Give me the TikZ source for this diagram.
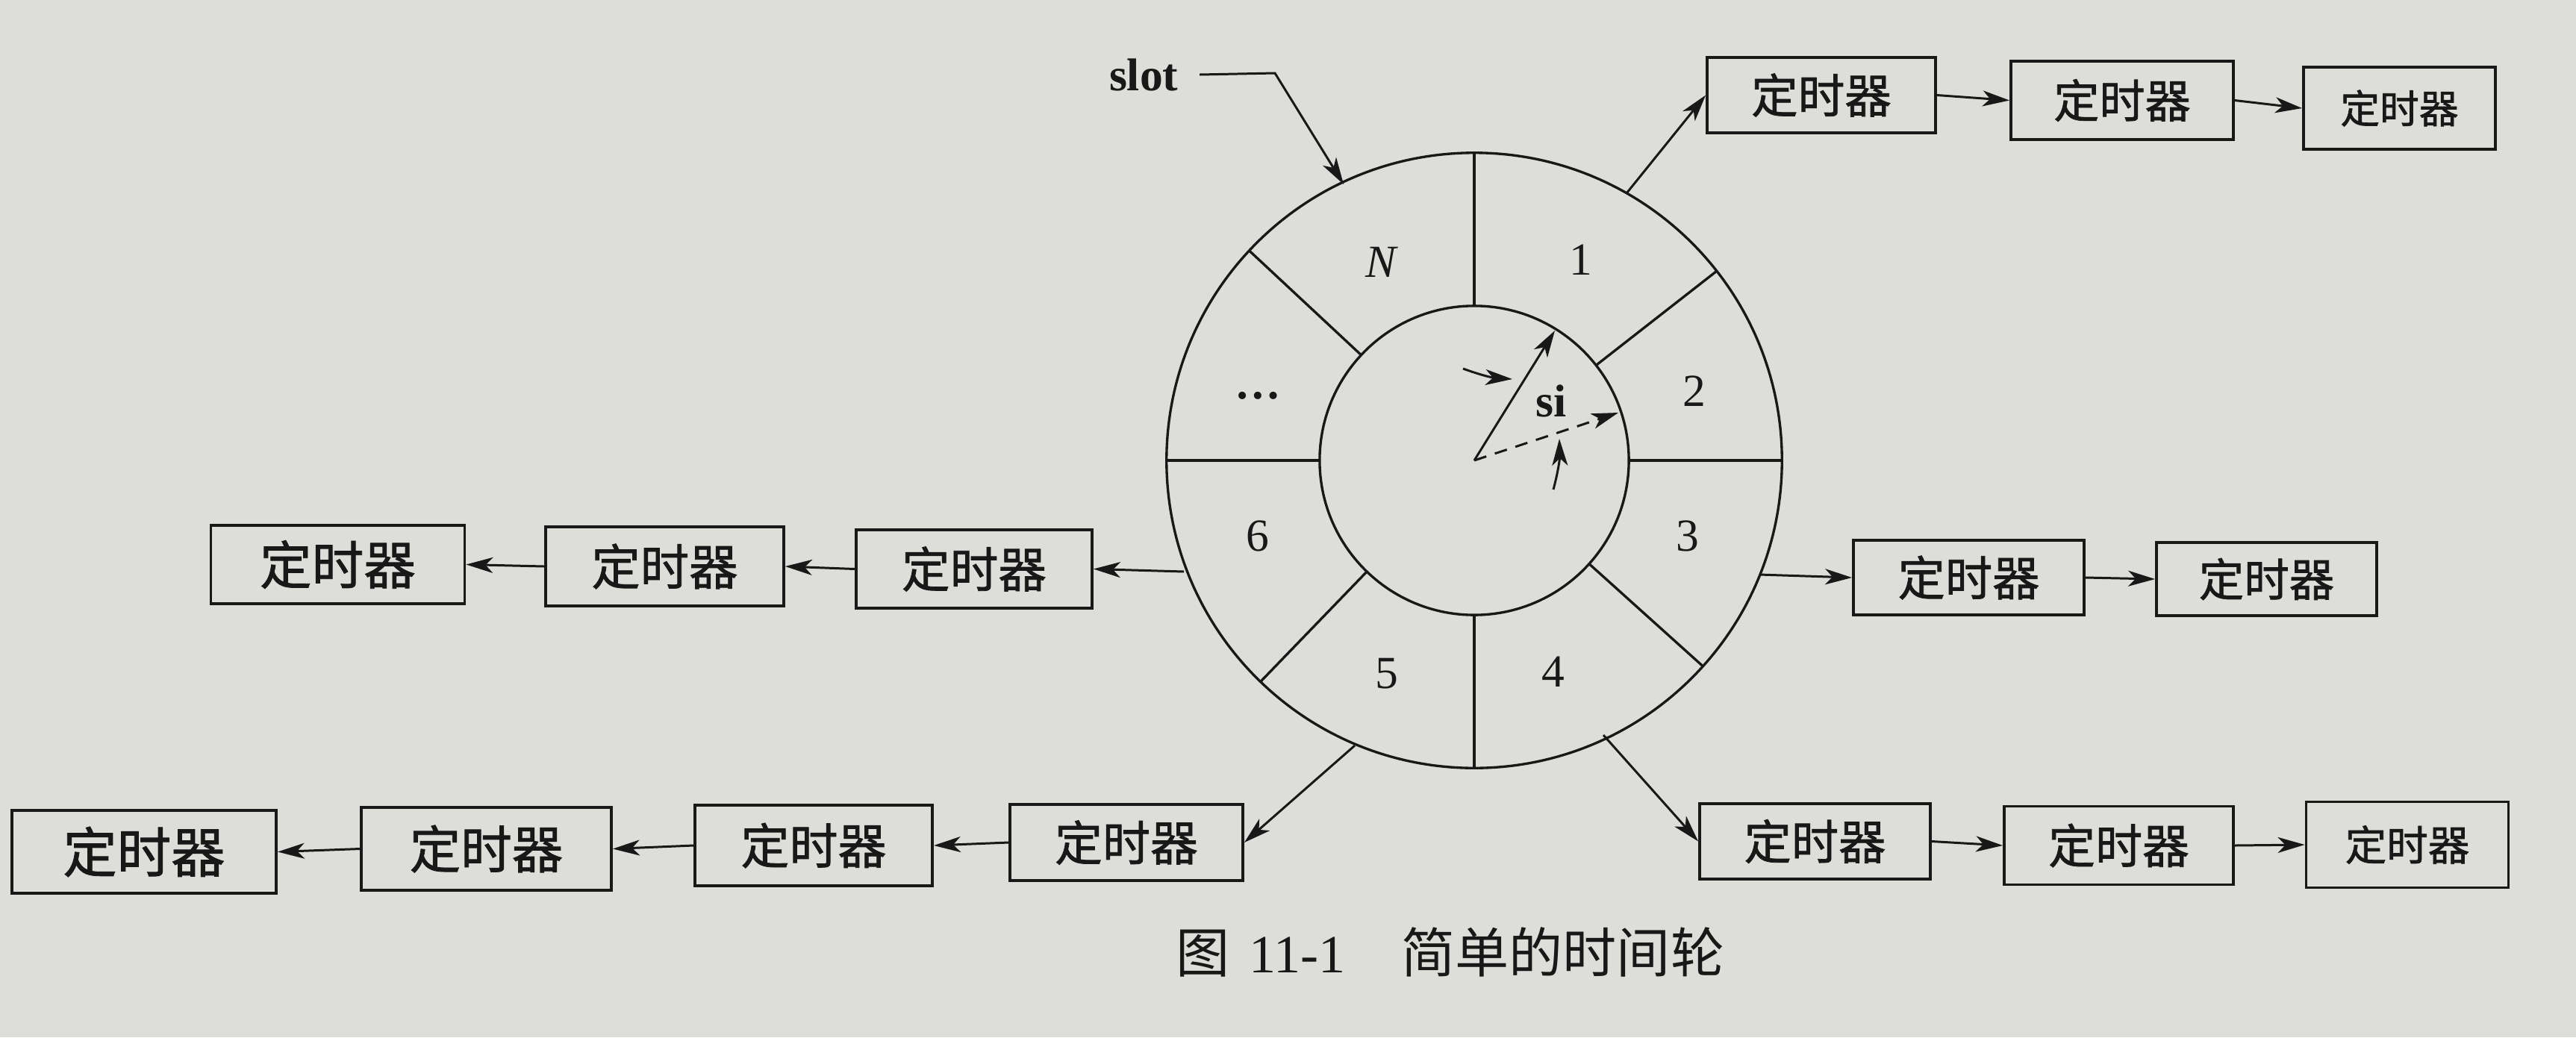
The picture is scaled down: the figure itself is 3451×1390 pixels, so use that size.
\documentclass[tikz,border=0pt]{standalone}
\usepackage{fontspec}
\setmainfont{Liberation Serif}
\newfontfamily\cjk{Noto Sans CJK SC}
\newfontfamily\cjkb{Noto Sans CJK SC}[FakeBold=1.2]
\usetikzlibrary{arrows.meta,calc}
\definecolor{paper}{RGB}{221,221,218}
\definecolor{ink}{RGB}{24,24,24}
\begin{document}
\begin{tikzpicture}[x=0.01cm,y=-0.01cm,
  tbox/.style n args={3}{draw=ink, line width=1.05pt, inner sep=0pt,
    minimum width=#1cm, minimum height=#2cm, text=ink,
    font=\cjkb\fontsize{#3pt}{#3pt}\selectfont},
  wl/.style={draw=ink, line width=0.95pt},
  arr/.style={draw=ink, line width=0.85pt,
    -{Stealth[length=0.36cm,width=0.21cm,inset=0.1cm]}},
  lbl/.style={text=ink, font=\fontsize{17.5pt}{17.5pt}\selectfont, inner sep=0pt}]
\useasboundingbox (0,0) rectangle (3451,1390);
\fill[paper] (0,0) rectangle (3451,1390);

% wheel
\coordinate (W) at (1975,617);
\draw[wl] (W) circle[radius=4.12cm];
\draw[wl] (W) circle[radius=2.07cm];
\foreach \a in {0,38,90,137,180,226,270,318}
  \draw[wl] ([shift={(-\a:207)}]W) -- ([shift={(-\a:412)}]W);

% slot labels
\node[lbl] (lN) at (1851,351) {\textit{N}};
\node[lbl] (l1) at (2118,348) {1};
\node[lbl] (l2) at (2270,524) {2};
\node[lbl] (l3) at (2261,718) {3};
\node[lbl] (l4) at (2081,900) {4};
\node[lbl] (l5) at (1858,903) {5};
\node[lbl] (l6) at (1685,718) {6};
\node[lbl, font=\bfseries\fontsize{17.5pt}{17.5pt}\selectfont] (ldots) at (1685,530) {\ldots};

% pointer
\coordinate (pA) at (2083,443);
\coordinate (pB) at (2168,553);
\draw[arr] (W) -- (pA);
\draw[arr, dash pattern=on 0.17cm off 0.12cm] (W) -- (pB);
\coordinate (q1s) at (1960,494);
\coordinate (q1e) at (2026,508);
\draw[arr] (q1s) to[bend right=8] (q1e);
\coordinate (q2s) at (2081,656);
\coordinate (q2e) at (2089,588);
\draw[arr] (q2s) to[bend right=8] (q2e);
\node[lbl, font=\bfseries\fontsize{17.5pt}{17.5pt}\selectfont] (si) at (2078,537) {si};

% slot pointer
\node[lbl, font=\bfseries\fontsize{17.5pt}{17.5pt}\selectfont, anchor=east] (slot) at (1579,100) {slot};
\coordinate (slotbend) at (1708,98);
\coordinate (slottip) at (1800,247);
\draw[arr] ([xshift=0.28cm]slot.east) -- (slotbend) -- (slottip);

% start points on the wheel
\coordinate (sTR) at (2179,259);
\coordinate (sMR) at (2357,770);
\coordinate (sML) at (1586,766);
\coordinate (sBL) at (1815,999);
\coordinate (sBR) at (2148,985);

% top-right chain
\node[tbox={3.06}{1.01}{17.8}] (TR1) at (2440,127.5) {定时器};
\node[tbox={2.98}{1.05}{17.4}] (TR2) at (2843,134.5) {定时器};
\node[tbox={2.57}{1.10}{15.0}] (TR3) at (3214.5,145) {定时器};
\draw[arr] (sTR) -- (TR1.west);
\draw[arr] (TR1.east) -- (TR2.west);
\draw[arr] (TR2.east) -- (TR3.west);

% middle-right chain
\node[tbox={3.09}{1.00}{18.0}] (MR1) at (2637.5,774) {定时器};
\node[tbox={2.95}{0.98}{17.2}] (MR2) at (3036.5,776) {定时器};
\draw[arr] (sMR) -- (MR1.west);
\draw[arr] (MR1.east) -- (MR2.west);

% middle-left chain
\node[tbox={3.16}{1.05}{18.4}] (ML1) at (1305,762.5) {定时器};
\node[tbox={3.19}{1.06}{18.6}] (ML2) at (890.5,759) {定时器};
\node[tbox={3.40}{1.05}{19.8}] (ML3) at (452.5,756.5) {定时器};
\draw[arr] (sML) -- (ML1.east);
\draw[arr] (ML1.west) -- (ML2.east);
\draw[arr] (ML2.west) -- (ML3.east);

% bottom-left chain
\node[tbox={3.12}{1.02}{18.2}] (BL1) at (1509,1129) {定时器};
\node[tbox={3.18}{1.08}{18.5}] (BL2) at (1090,1133) {定时器};
\node[tbox={3.35}{1.11}{19.5}] (BL3) at (651.5,1137.5) {定时器};
\node[tbox={3.54}{1.11}{20.6}] (BL4) at (193,1141.5) {定时器};
\draw[arr] (sBL) -- (BL1.east);
\draw[arr] (BL1.west) -- (BL2.east);
\draw[arr] (BL2.west) -- (BL3.east);
\draw[arr] (BL3.west) -- (BL4.east);

% bottom-right chain
\node[tbox={3.09}{1.01}{18.0}] (BR1) at (2431.5,1127.5) {定时器};
\node[tbox={3.07}{1.05}{17.9}] (BR2) at (2838.5,1133) {定时器};
\node[tbox={2.71}{1.15}{15.8}] (BR3) at (3225,1132) {定时器};
\draw[arr] (sBR) -- (BR1.west);
\draw[arr] (BR1.east) -- (BR2.west);
\draw[arr] (BR2.east) -- (BR3.west);

% caption
\node[text=ink, inner sep=0pt, font=\fontsize{20.5pt}{22pt}\selectfont] (cap) at (1943,1276)
  {{\cjk 图}\hspace{0.25cm}11-1\hspace{0.75cm}{\cjk 简单的时间轮}};
\end{tikzpicture}
\end{document}
